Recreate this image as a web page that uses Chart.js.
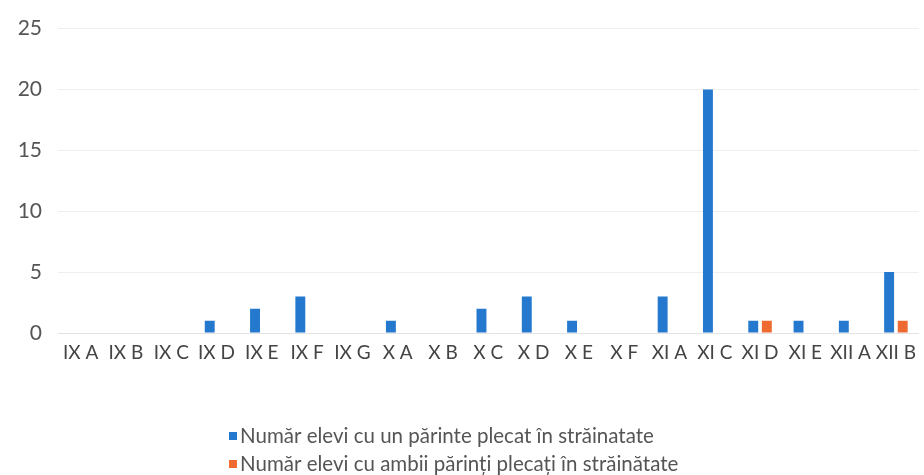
<!DOCTYPE html>
<html>
<head>
<meta charset="utf-8">
<script src="https://cdn.jsdelivr.net/npm/chart.js@4/dist/chart.umd.min.js"></script>
<style>
html,body{margin:0;padding:0;background:#fff;}
#wrap{width:924px;height:475px;position:relative;}
</style>
</head>
<body>
<div id="wrap"><canvas id="c"></canvas></div>
<script>
const categories = ["IX A","IX B","IX C","IX D","IX E","IX F","IX G","X A","X B","X C","X D","X E","X F","XI A","XI C","XI D","XI E","XII A","XII B"];
const unParinte = [0,0,0,1,2,3,0,1,0,2,3,1,0,3,20,1,1,1,5];
const ambiiParinti = [0,0,0,0,0,0,0,0,0,0,0,0,0,0,0,1,0,0,1];
const seriesNames = ["Număr elevi cu un părinte plecat în străinatate","Număr elevi cu ambii părinți plecați în străinătate"];
const yTicks = [0,5,10,15,20,25];

const FONT = "Lato, 'Open Sans', sans-serif";

const legendPlugin = {
  id: 'customLegend',
  afterDraw(chart) {
    const ctx = chart.ctx;
    ctx.save();
    ctx.font = "20.5px " + FONT;
    ctx.textBaseline = 'middle';
    ctx.textAlign = 'left';
    const rows = [436, 464];
    chart.data.datasets.forEach((ds, i) => {
      const y = rows[i];
      ctx.fillStyle = ds.backgroundColor;
      ctx.fillRect(229, y - 4, 8, 8);
      ctx.fillStyle = '#555';
      ctx.fillText(ds.label, 240, y);
    });
    ctx.restore();
  }
};

new Chart(document.getElementById('c'), {
  type: 'bar',
  data: {
    labels: categories,
    datasets: [
      { label: seriesNames[0], data: unParinte, backgroundColor: '#2479cf', categoryPercentage: 0.6, barPercentage: 0.73 },
      { label: seriesNames[1], data: ambiiParinti, backgroundColor: '#ee6a30', categoryPercentage: 0.6, barPercentage: 0.73 }
    ]
  },
  options: {
    responsive: true,
    maintainAspectRatio: false,
    animation: false,
    layout: { padding: { top: 22, right: 1, bottom: 92, left: 0 } },
    plugins: { legend: { display: false }, tooltip: { enabled: false } },
    scales: {
      x: {
        grid: { display: false, drawTicks: false },
        border: { display: true, color: '#e3e3e3' },
        ticks: { color: '#444', font: { family: FONT, size: 19 }, padding: 8, maxRotation: 0, autoSkip: false },
        afterFit(s) { s.height = 50; }
      },
      y: {
        min: 0, max: 25,
        afterBuildTicks(s) { s.ticks = yTicks.map(v => ({ value: v })); },
        grid: { color: '#efefef', drawTicks: false },
        border: { display: false },
        ticks: { color: '#555', font: { family: FONT, size: 21 }, padding: 16 },
        afterFit(s) { s.width = 58; }
      }
    }
  },
  plugins: [legendPlugin]
});
</script>
</body>
</html>
